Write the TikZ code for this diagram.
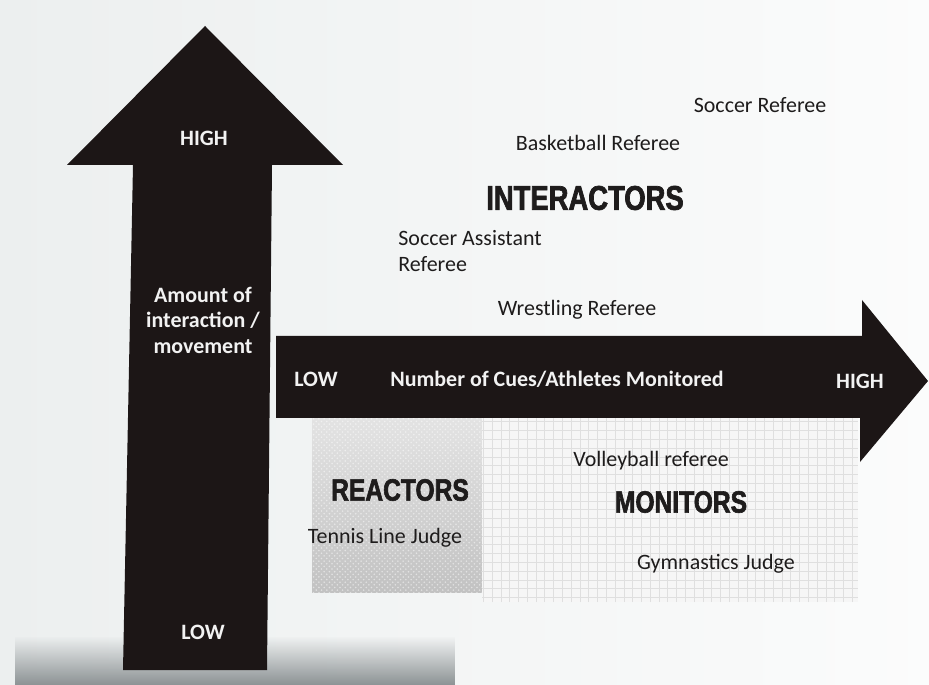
\documentclass[tikz,border=0pt]{standalone}
\usepackage{fontspec}
\setmainfont{Carlito}
\newfontfamily\headfont{Liberation Sans}[FakeStretch=0.8, FakeBold=2]
\usetikzlibrary{patterns,fadings}
\definecolor{arrowfill}{RGB}{28,22,22}
\definecolor{paper}{RGB}{236,239,239}
\definecolor{smear}{RGB}{140,146,148}
\definecolor{ink}{RGB}{30,28,28}
\tikzset{
	role/.style={font=\fontsize{12.5}{15.3}\selectfont, text=ink, inner sep=0pt},
	scalelabel/.style={font=\bfseries\fontsize{12.5}{14.5}\selectfont, text=white!90!gray, inner sep=0pt, align=center},
	group/.style={font=\headfont\bfseries\fontsize{17.5}{20}\selectfont, text=ink, inner sep=0pt},
}
\begin{document}
\begin{tikzpicture}[x=0.02cm, y=-0.02cm]
	\useasboundingbox (0,0) rectangle (929,685);
	\shade[left color=paper, right color=white!80!paper] (0,0) rectangle (929,685);
	\fill[smear, path fading=north] (15,636) rectangle (455,685);

	\shade[top color=gray!22, bottom color=gray!48] (312,418) rectangle (482,592);
	\fill[pattern=crosshatch dots, pattern color=white, opacity=0.5] (312,418) rectangle (482,592);
	\fill[white!93!gray] (482,418) rectangle (858,602);
	\draw[gray!25, very thin, step=5pt] (482,418) grid (858,602);

	\fill[arrowfill] (205,26) -- (343,165) -- (272,165) -- (267,670) -- (123,670) -- (133,165) -- (67,165) -- cycle;
	\fill[arrowfill] (276,336) -- (862,336) -- (862,300) -- (928,381) -- (860,462) -- (860,418) -- (276,418) -- cycle;

	\node[scalelabel] (vhigh) at (204,138) {HIGH};
	\node[scalelabel] (vname) at (203,320) {Amount of\\interaction /\\movement};
	\node[scalelabel] (vlow) at (203,632) {LOW};
	\node[scalelabel] (hlow) at (316,379) {LOW};
	\node[scalelabel] (hname) at (557,379) {Number of Cues/Athletes Monitored};
	\node[scalelabel] (hhigh) at (860,381) {HIGH};

	\node[role] (soccer) at (760,105) {Soccer Referee};
	\node[role] (basketball) at (598,143) {Basketball Referee};
	\node[group, font=\headfont\bfseries\fontsize{19.5}{22}\selectfont] (interactors) at (585,198) {INTERACTORS};
	\node[role, align=left, anchor=west] (assistant) at (398,251) {Soccer Assistant\\Referee};
	\node[role] (wrestling) at (577,310) {Wrestling Referee};

	\node[group] (reactors) at (400,490) {REACTORS};
	\node[role] (tennis) at (385,538) {Tennis Line Judge};

	\node[role] (volleyball) at (651,461) {Volleyball referee};
	\node[group] (monitors) at (681,502) {MONITORS};
	\node[role] (gymnastics) at (716,564) {Gymnastics Judge};
\end{tikzpicture}
\end{document}
